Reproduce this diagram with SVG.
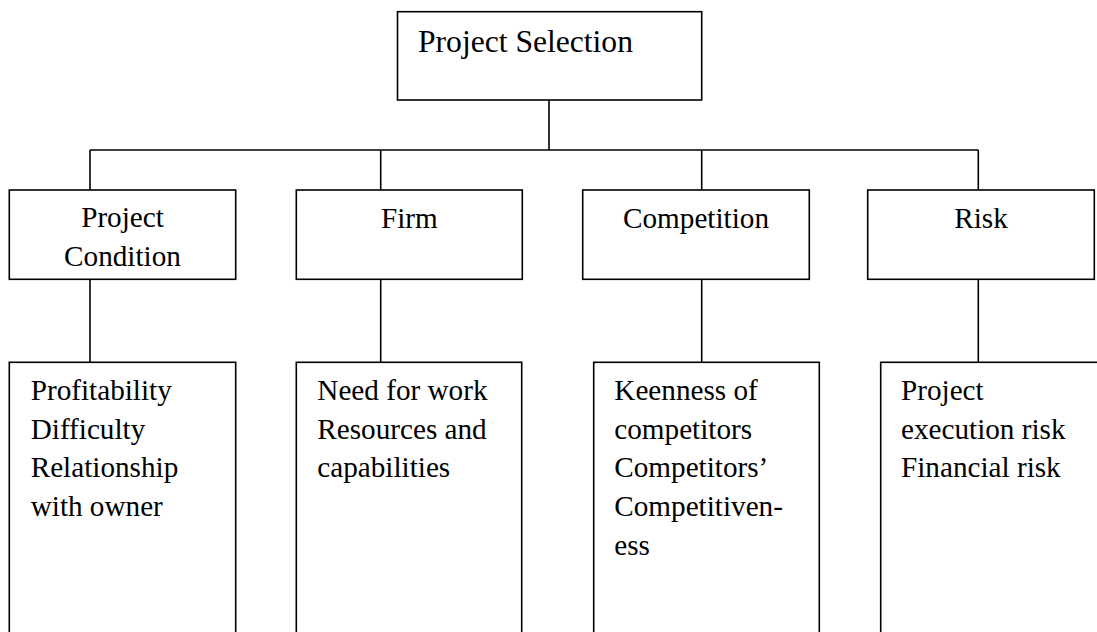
<svg xmlns="http://www.w3.org/2000/svg" width="1097" height="632" viewBox="0 0 1097 632">
<style>
.box{fill:#fff;stroke:#000;stroke-width:1.6}
.ln{fill:none;stroke:#000;stroke-width:1.6}
text{fill:#000}
.c{text-anchor:middle}
</style>
<rect width="1097" height="632" fill="#fff"/>
<g id="connectors">
<path class="ln" d="M549,100 V150 M90,150 H978.3 M90,150 V190 M380.7,150 V190 M701.7,150 V190 M978.3,150 V190 M90,279.3 V362.3 M380.7,279.3 V362.3 M701.7,279.3 V362.3 M978.3,279.3 V362.3"/>
</g>
<g id="project-selection">
<rect class="box" x="397.5" y="11.7" width="304.2" height="88.3"/>
<text font-family="'Liberation Serif', 'DejaVu Serif', serif" font-size="31.6" x="418" y="52">Project Selection</text>
</g>
<g font-family="'Liberation Serif', 'DejaVu Serif', serif" font-size="29.2">
<g id="project-condition">
<rect class="box" x="9.3" y="190" width="226.4" height="89.3"/>
<text class="c" x="122.5" y="227.3">Project</text>
<text class="c" x="122.5" y="266">Condition</text>
</g>
<g id="firm">
<rect class="box" x="296.3" y="190" width="226" height="89.3"/>
<text class="c" x="409.3" y="228.3">Firm</text>
</g>
<g id="competition">
<rect class="box" x="582.7" y="190" width="226.6" height="89.3"/>
<text class="c" x="696" y="228.3">Competition</text>
</g>
<g id="risk">
<rect class="box" x="867.7" y="190" width="226.6" height="89.3"/>
<text class="c" x="981" y="228.3">Risk</text>
</g>
<g id="project-condition-items">
<rect class="box" x="9.3" y="362.3" width="226.4" height="300"/>
<text x="30.7" y="400">Profitability</text>
<text x="30.7" y="438.7">Difficulty</text>
<text x="30.7" y="477.4">Relationship</text>
<text x="30.7" y="516.1">with owner</text>
</g>
<g id="firm-items">
<rect class="box" x="296.3" y="362.3" width="225.4" height="300"/>
<text x="317.3" y="400">Need for work</text>
<text x="317.3" y="438.7">Resources and</text>
<text x="317.3" y="477.4">capabilities</text>
</g>
<g id="competition-items">
<rect class="box" x="593.7" y="362.3" width="225.6" height="300"/>
<text x="614.3" y="400">Keenness of</text>
<text x="614.3" y="438.7">competitors</text>
<text x="614.3" y="477.4">Competitors’</text>
<text x="614.3" y="516.1">Competitiven-</text>
<text x="614.3" y="554.8">ess</text>
</g>
<g id="risk-items">
<rect class="box" x="880.7" y="362.3" width="240" height="300"/>
<text x="901" y="400">Project</text>
<text x="901" y="438.7">execution risk</text>
<text x="901" y="477.4">Financial risk</text>
</g>
</g>
</svg>
